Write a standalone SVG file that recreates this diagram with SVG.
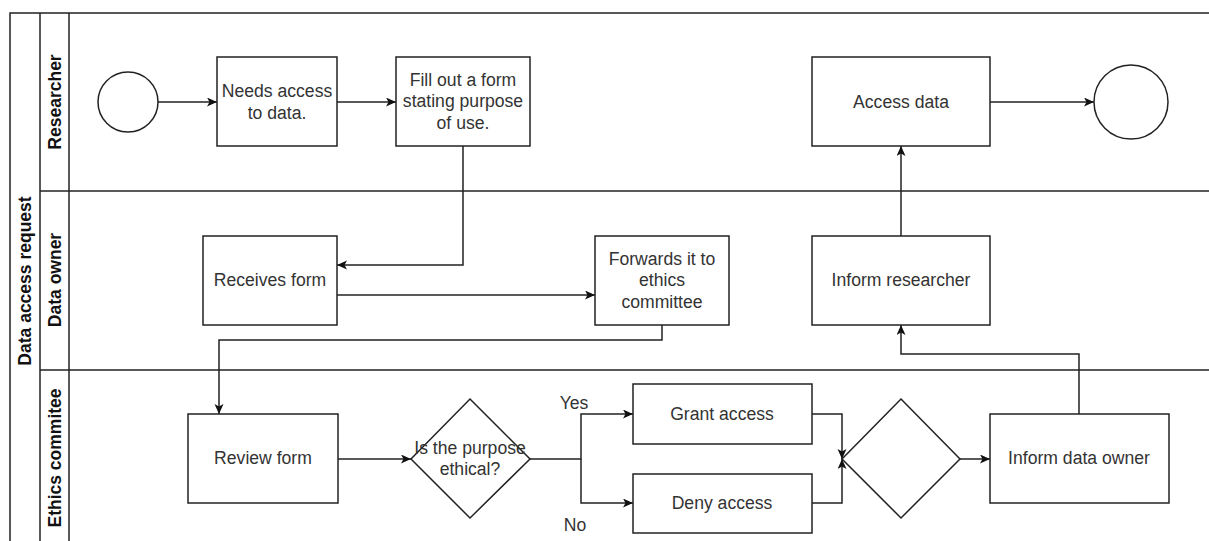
<svg xmlns="http://www.w3.org/2000/svg" width="1209" height="541" viewBox="0 0 1209 541">
  <style>
    .pool { fill: #fff; stroke: #222; stroke-width: 1.5; }
    .lane { fill: none; stroke: #222; stroke-width: 1.5; }
    .task { fill: #fff; stroke: #222; stroke-width: 1.5; }
    .edge { fill: none; stroke: #222; stroke-width: 1.5; }
    .t { font-family: "Liberation Sans", Arial, sans-serif; font-size: 17.6px; fill: #333; text-anchor: middle; }
    .h { font-family: "Liberation Sans", Arial, sans-serif; font-size: 17.5px; font-weight: bold; fill: #111; text-anchor: middle; }
  </style>
  <defs>
    <marker id="arrow" markerUnits="userSpaceOnUse" markerWidth="12" markerHeight="10" refX="10" refY="4.5" orient="auto">
      <path d="M0,0 L10,4.5 L0,9 L2.5,4.5 Z" fill="#111"/>
    </marker>
  </defs>
  <rect width="1209" height="541" fill="#fff"/>

  <!-- pool and lanes -->
  <g id="pool">
    <rect class="pool" x="10" y="13" width="1215" height="540"/>
    <line class="lane" x1="40" y1="13" x2="40" y2="553"/>
    <line class="lane" x1="69" y1="13" x2="69" y2="553"/>
    <line class="lane" x1="40" y1="191" x2="1225" y2="191"/>
    <line class="lane" x1="40" y1="370" x2="1225" y2="370"/>
    <text class="h" transform="translate(31,281) rotate(-90)">Data access request</text>
    <text class="h" transform="translate(61,102) rotate(-90)">Researcher</text>
    <text class="h" transform="translate(61,280) rotate(-90)">Data owner</text>
    <text class="h" transform="translate(61,458) rotate(-90)">Ethics commitee</text>
  </g>

  <!-- connectors -->
  <g id="connectors">
    <path class="edge" d="M158,102 H217" marker-end="url(#arrow)"/>
    <path class="edge" d="M337,102 H396" marker-end="url(#arrow)"/>
    <path class="edge" d="M463,146 V265 H337" marker-end="url(#arrow)"/>
    <path class="edge" d="M337,295 H595" marker-end="url(#arrow)"/>
    <path class="edge" d="M662,325 V340 H219 V414" marker-end="url(#arrow)"/>
    <path class="edge" d="M338,459 H411" marker-end="url(#arrow)"/>
    <path class="edge" d="M530,459 H581 V414 H633" marker-end="url(#arrow)"/>
    <path class="edge" d="M581,459 V503 H633" marker-end="url(#arrow)"/>
    <path class="edge" d="M812,414 H842 V459" marker-end="url(#arrow)"/>
    <path class="edge" d="M812,503 H842 V459" marker-end="url(#arrow)"/>
    <path class="edge" d="M960,459 H990" marker-end="url(#arrow)"/>
    <path class="edge" d="M1079,414 V354 H901 V325" marker-end="url(#arrow)"/>
    <path class="edge" d="M901,236 V146" marker-end="url(#arrow)"/>
    <path class="edge" d="M990,102 H1094" marker-end="url(#arrow)"/>
    <text class="t" x="574" y="409">Yes</text>
    <text class="t" x="575" y="531">No</text>
  </g>

  <!-- researcher lane -->
  <g id="start">
    <circle class="task" cx="128" cy="102" r="30"/>
  </g>
  <g id="needs-access">
    <rect class="task" x="217" y="57" width="120" height="89"/>
    <text class="t" x="277" y="97">Needs access</text>
    <text class="t" x="277" y="119">to data.</text>
  </g>
  <g id="fill-form">
    <rect class="task" x="396" y="57" width="134" height="89"/>
    <text class="t" x="463" y="86">Fill out a form</text>
    <text class="t" x="463" y="107">stating purpose</text>
    <text class="t" x="463" y="129">of use.</text>
  </g>
  <g id="access-data">
    <rect class="task" x="812" y="57" width="178" height="89"/>
    <text class="t" x="901" y="108">Access data</text>
  </g>
  <g id="end">
    <circle class="task" cx="1131" cy="102" r="37"/>
  </g>

  <!-- data owner lane -->
  <g id="receives-form">
    <rect class="task" x="203" y="236" width="134" height="89"/>
    <text class="t" x="270" y="286">Receives form</text>
  </g>
  <g id="forwards">
    <rect class="task" x="595" y="236" width="134" height="89"/>
    <text class="t" x="662" y="265">Forwards it to</text>
    <text class="t" x="662" y="286">ethics</text>
    <text class="t" x="662" y="308">committee</text>
  </g>
  <g id="inform-researcher">
    <rect class="task" x="812" y="236" width="178" height="89"/>
    <text class="t" x="901" y="286">Inform researcher</text>
  </g>

  <!-- ethics committee lane -->
  <g id="review-form">
    <rect class="task" x="188" y="414" width="150" height="89"/>
    <text class="t" x="263" y="464">Review form</text>
  </g>
  <g id="is-ethical">
    <polygon class="task" points="470,399 530,459 470,518 411,459"/>
    <text class="t" x="470" y="454">Is the purpose</text>
    <text class="t" x="470" y="475">ethical?</text>
  </g>
  <g id="grant-access">
    <rect class="task" x="633" y="384" width="179" height="60"/>
    <text class="t" x="722" y="420">Grant access</text>
  </g>
  <g id="deny-access">
    <rect class="task" x="633" y="474" width="179" height="59"/>
    <text class="t" x="722" y="509">Deny access</text>
  </g>
  <g id="merge">
    <polygon class="task" points="901,399 960,459 901,518 842,459"/>
  </g>
  <g id="inform-owner">
    <rect class="task" x="990" y="414" width="179" height="89"/>
    <text class="t" x="1079" y="464">Inform data owner</text>
  </g>
</svg>
